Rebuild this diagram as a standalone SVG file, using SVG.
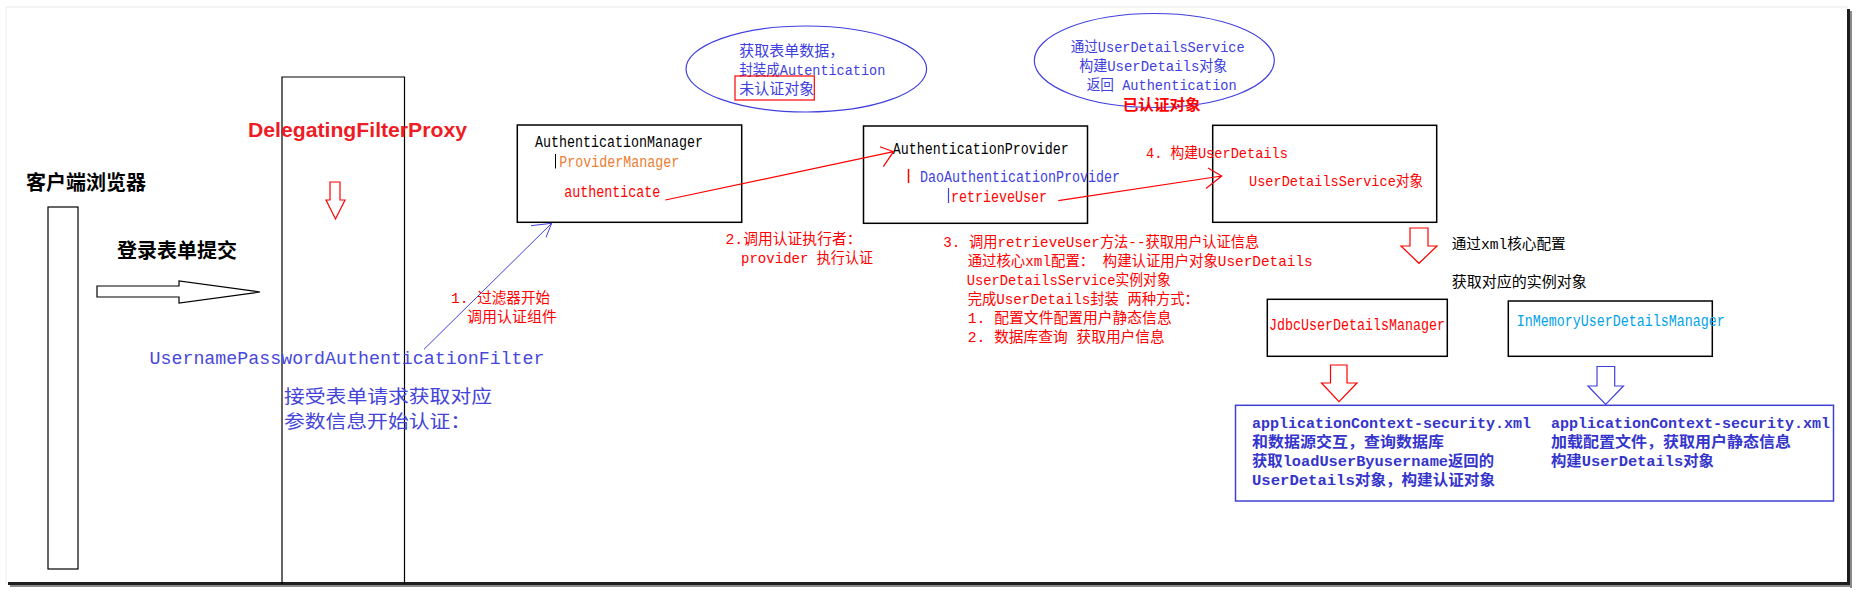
<svg xmlns="http://www.w3.org/2000/svg" width="1856" height="592" viewBox="0 0 1856 592">
<style>
  text { font-family: "Liberation Mono", "Noto Sans CJK SC", monospace; font-size: 15px; }
  .cjk { font-family: "Noto Sans CJK SC", sans-serif; }
  .sans { font-family: "Liberation Sans", "Noto Sans CJK SC", sans-serif; }
  .f16 { font-size: 16px; }
  .bold { font-weight: bold; }
  .red { fill: #ff0000; }
  .blue { fill: #4040e0; }
  .dblue { fill: #3535cc; }
  .black { fill: #000000; }
  .orange { fill: #ed7d31; }
  .cyan { fill: #00a2e8; }
  .box { fill: #ffffff; stroke: #000000; stroke-width: 1.5; }
  .thin { fill: none; stroke: #000000; stroke-width: 1.2; }
  .ell { fill: none; stroke: #4040dd; stroke-width: 1.2; }
  .hollow-k { fill: #ffffff; stroke: #000000; stroke-width: 1.2; }
  .hollow-r { fill: #ffffff; stroke: #ff0000; stroke-width: 1.2; }
  .hollow-b { fill: #ffffff; stroke: #4040dd; stroke-width: 1.2; }
  .conn-r { fill: none; stroke: #ff0000; stroke-width: 1.2; }
  .conn-b { fill: none; stroke: #4040dd; stroke-width: 1; }
  .bar-k { stroke: #000000; stroke-width: 1; }
  .bar-r { stroke: #ff0000; stroke-width: 1.5; }
  .bar-b { stroke: #4040dd; stroke-width: 1.2; }
</style>

<rect x="0" y="0" width="1856" height="592" fill="#ffffff"/>

<g id="frame">
  <line x1="6" y1="7" x2="1848" y2="7" stroke="#e6e6e6" stroke-width="1"/>
  <line x1="6" y1="7" x2="6" y2="584" stroke="#f0f0f0" stroke-width="1"/>
  <rect x="1847" y="9" width="3" height="578" fill="#1e1e1e"/>
  <rect x="1850" y="11" width="2" height="577" fill="#8a8a8a"/>
  <rect x="8" y="582" width="1842" height="3" fill="#1e1e1e"/>
  <rect x="10" y="585" width="1842" height="2" fill="#8a8a8a"/>
</g>

<g id="client">
  <rect class="thin" x="48" y="207" width="30" height="362"/>
  <text class="cjk bold black" x="26" y="190" style="font-size:20px">客户端浏览器</text>
</g>

<g id="submit">
  <text class="cjk bold black" x="117" y="258" style="font-size:20px">登录表单提交</text>
  <polygon class="hollow-k" points="97,286 179,286 179,281 260,292 179,303 179,297 97,297"/>
</g>

<g id="filter">
  <path class="thin" d="M282,584 L282,77 L404.5,77 L404.5,584"/>
  <text class="sans bold" x="248" y="137" style="font-size:21px;fill:#ee1c25" textLength="219" lengthAdjust="spacingAndGlyphs">DelegatingFilterProxy</text>
  <polygon class="hollow-r" points="330,182 340,182 340,200 345,200 335.5,219 326,200 330,200"/>
  <text x="149.5" y="363.5" style="font-size:19px;fill:#4848dc" textLength="395" lengthAdjust="spacingAndGlyphs">UsernamePasswordAuthenticationFilter</text>
  <text class="cjk" x="284" y="403" style="font-size:18px;fill:#4444d8" textLength="208" lengthAdjust="spacingAndGlyphs">接受表单请求获取对应</text>
  <text class="cjk" x="284" y="428" style="font-size:18px;fill:#4444d8" textLength="187" lengthAdjust="spacingAndGlyphs">参数信息开始认证：</text>
</g>

<g id="note-unauth">
  <ellipse class="ell" cx="806.3" cy="69" rx="120.3" ry="43"/>
  <text class="blue" x="739.3" y="56" textLength="105" lengthAdjust="spacingAndGlyphs">获取表单数据，</text>
  <text class="blue" x="739.3" y="75" textLength="146" lengthAdjust="spacingAndGlyphs">封装成Autentication</text>
  <rect x="735" y="76" width="79.3" height="24" fill="none" stroke="#ff0000" stroke-width="1.2"/>
  <text class="blue cjk" x="739.3" y="94">未认证对象</text>
</g>

<g id="auth-manager">
  <rect class="box" x="517.3" y="125" width="224.4" height="97.3"/>
  <text class="f16 black" x="535" y="147" textLength="168" lengthAdjust="spacingAndGlyphs">AuthenticationManager</text>
  <line class="bar-k" x1="555.5" y1="154" x2="555.5" y2="168.5"/>
  <text class="f16 orange" x="559.3" y="167" textLength="120" lengthAdjust="spacingAndGlyphs">ProviderManager</text>
  <text class="f16 red" x="564.3" y="197" textLength="96" lengthAdjust="spacingAndGlyphs">authenticate</text>
</g>

<g id="auth-provider">
  <rect class="box" x="863.5" y="126" width="224" height="97.3"/>
  <text class="f16 black" x="892.7" y="154" textLength="176" lengthAdjust="spacingAndGlyphs">AuthenticationProvider</text>
  <line class="bar-r" x1="908.5" y1="169" x2="908.5" y2="183"/>
  <text class="f16 blue" x="920" y="182" textLength="200" lengthAdjust="spacingAndGlyphs">DaoAuthenticationProvider</text>
  <line class="bar-b" x1="948.5" y1="188" x2="948.5" y2="203"/>
  <text class="f16 red" x="951" y="202" textLength="96" lengthAdjust="spacingAndGlyphs">retrieveUser</text>
</g>

<g id="note-auth">
  <ellipse class="ell" cx="1154.3" cy="60.5" rx="120" ry="47"/>
  <text class="blue" x="1070.7" y="52" textLength="174" lengthAdjust="spacingAndGlyphs">通过UserDetailsService</text>
  <text class="blue" x="1079.3" y="71" textLength="148" lengthAdjust="spacingAndGlyphs">构建UserDetails对象</text>
  <text class="blue" x="1086.7" y="89.5" textLength="150" lengthAdjust="spacingAndGlyphs">返回 Authentication</text>
  <text class="cjk bold red" x="1122.7" y="110" style="font-size:15px" textLength="78" lengthAdjust="spacingAndGlyphs">已认证对象</text>
</g>

<g id="user-details-service">
  <rect class="box" x="1212.7" y="125.3" width="224" height="97"/>
  <text class="red" x="1249" y="186" textLength="174" lengthAdjust="spacingAndGlyphs">UserDetailsService对象</text>
  <polygon class="hollow-r" points="1410,228 1428,228 1428,246 1437,246 1419,263.3 1401,246 1410,246"/>
  <text class="black" x="1451.7" y="249" textLength="114" lengthAdjust="spacingAndGlyphs">通过xml核心配置</text>
  <text class="black cjk" x="1451.7" y="287">获取对应的实例对象</text>
</g>

<g id="jdbc-manager">
  <rect class="box" x="1267.3" y="299.3" width="180" height="57"/>
  <text class="f16 red" x="1269" y="330" textLength="176" lengthAdjust="spacingAndGlyphs">JdbcUserDetailsManager</text>
  <polygon class="hollow-r" points="1330.5,365 1347,365 1347,383 1357,383 1339,401.7 1321.5,383 1330.5,383"/>
</g>

<g id="inmemory-manager">
  <rect class="box" x="1508.3" y="301" width="204" height="55.3"/>
  <text class="f16 cyan" x="1516.7" y="326" textLength="208" lengthAdjust="spacingAndGlyphs">InMemoryUserDetailsManager</text>
  <polygon class="hollow-b" points="1597,366.5 1614.7,366.5 1614.7,386 1623.4,386 1605.7,404.3 1588,386 1597,386"/>
</g>

<g id="config-box">
  <rect x="1235.5" y="405.3" width="598" height="95.7" fill="#ffffff" stroke="#4040d0" stroke-width="1.5"/>
  <text class="bold dblue" x="1252" y="428" textLength="279" lengthAdjust="spacingAndGlyphs">applicationContext-security.xml</text>
  <text class="bold dblue" x="1252" y="447" textLength="192" lengthAdjust="spacingAndGlyphs">和数据源交互，查询数据库</text>
  <text class="bold dblue" x="1252" y="466" textLength="242" lengthAdjust="spacingAndGlyphs">获取loadUserByusername返回的</text>
  <text class="bold dblue" x="1252" y="485" textLength="243" lengthAdjust="spacingAndGlyphs">UserDetails对象，构建认证对象</text>
  <text class="bold dblue" x="1551" y="428" textLength="279" lengthAdjust="spacingAndGlyphs">applicationContext-security.xml</text>
  <text class="bold dblue" x="1551" y="447" textLength="240" lengthAdjust="spacingAndGlyphs">加载配置文件，获取用户静态信息</text>
  <text class="bold dblue" x="1551" y="466" textLength="163" lengthAdjust="spacingAndGlyphs">构建UserDetails对象</text>
</g>

<g id="connectors">
  <path class="conn-b" d="M424,349.3 L551.7,223.3 M531,225.7 L551.7,223.3 L546,237.3"/>
  <path class="conn-r" d="M665.3,200 L893.5,151.7 M880,146.7 L893.5,151.7 L883.3,166.7"/>
  <path class="conn-r" d="M1058.3,200.7 L1221.7,176 M1208,168 L1221.7,176 L1206,188.5"/>
  <text class="red" x="451" y="303" textLength="99" lengthAdjust="spacingAndGlyphs">1. 过滤器开始</text>
  <text class="red cjk" x="467" y="322">调用认证组件</text>
  <text class="red" x="725.5" y="244" textLength="136" lengthAdjust="spacingAndGlyphs">2.调用认证执行者：</text>
  <text class="red" x="741" y="263" textLength="132" lengthAdjust="spacingAndGlyphs">provider 执行认证</text>
  <text class="red" x="943.3" y="247" textLength="316" lengthAdjust="spacingAndGlyphs">3. 调用retrieveUser方法--获取用户认证信息</text>
  <text class="red" x="967.7" y="266" textLength="345" lengthAdjust="spacingAndGlyphs">通过核心xml配置： 构建认证用户对象UserDetails</text>
  <text class="red" x="966.7" y="285" textLength="204" lengthAdjust="spacingAndGlyphs">UserDetailsService实例对象</text>
  <text class="red" x="967.7" y="304" textLength="231" lengthAdjust="spacingAndGlyphs">完成UserDetails封装 两种方式：</text>
  <text class="red" x="967.7" y="323" textLength="204" lengthAdjust="spacingAndGlyphs">1. 配置文件配置用户静态信息</text>
  <text class="red" x="967.7" y="342" textLength="197" lengthAdjust="spacingAndGlyphs">2. 数据库查询 获取用户信息</text>
  <text class="red" x="1146" y="158" textLength="142" lengthAdjust="spacingAndGlyphs">4. 构建UserDetails</text>
</g>
</svg>
